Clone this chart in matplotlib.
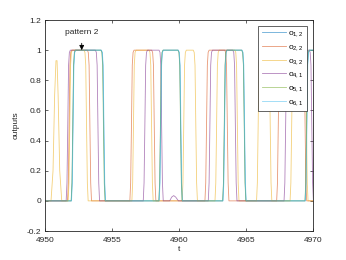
import matplotlib as mpl
import matplotlib.pyplot as plt

mpl.use('Agg')

# Pulse edges: (rise time, fall time)
t_start, t_end = 4950, 4970
labels = ['o$_{1,2}$', 'o$_{2,2}$', 'o$_{3,2}$', 'o$_{4,1}$', 'o$_{5,1}$', 'o$_{6,1}$']
colors = ['#0072BD', '#D95319', '#EDB120', '#7E2F8E', '#77AC30', '#4DBEEE']

pulses_o12 = [(4952.08, 4954.38), (4958.62, 4960.12), (4963.38, 4964.87), (4969.52, 4971)]
pulses_o22 = [(4951.8, 4953.35), (4956.45, 4958.15), (4962.05, 4963.6), (4967.4, 4969.4)]
pulses_o32 = [(4951.85, 4953.1), (4956.6, 4957.95), (4960.35, 4961.25), (4962.8, 4964.35),
              (4965.9, 4966.8), (4968.4, 4969.5)]
pulses_o41 = [(4951.7, 4953.95), (4957.45, 4958.7), (4962.3, 4964.2), (4967.95, 4969.9)]
pulses_o51 = [(4952.07, 4954.36), (4958.61, 4960.11), (4963.37, 4964.86), (4969.51, 4971)]
pulses_o61 = [(4952.1, 4954.4), (4958.64, 4960.14), (4963.4, 4964.89), (4969.54, 4971)]

# the partial bump of o3,2 near the start and the small bump of o4,1
bump_o32_t = [4950.45, 4950.6, 4950.72, 4950.82, 4950.9, 4950.98, 4951.1, 4951.25]
bump_o32_y = [0.0, 0.2, 0.7, 0.93, 0.93, 0.7, 0.2, 0.0]
bump_o41_t = [4959.3, 4959.45, 4959.6, 4959.75, 4959.95]
bump_o41_y = [0.0, 0.025, 0.035, 0.025, 0.0]

all_pulses = [pulses_o12, pulses_o22, pulses_o32, pulses_o41, pulses_o51, pulses_o61]
extra_bumps = {2: (bump_o32_t, bump_o32_y), 3: (bump_o41_t, bump_o41_y)}

ramp = 0.12  # half width of an edge


def pulse_vertices(pulses, bump=None):
    pts = [(t_start, 0.0)]
    if bump is not None:
        pts += list(zip(bump[0], bump[1]))
    for rise, fall in pulses:
        pts += [(rise - ramp, 0.0), (rise - ramp * 0.5, 0.12), (rise, 0.5),
                (rise + ramp * 0.5, 0.9), (rise + ramp, 0.985), (rise + ramp * 1.6, 1.0),
                (fall - ramp * 1.6, 1.0), (fall - ramp, 0.985), (fall - ramp * 0.5, 0.9),
                (fall, 0.5), (fall + ramp * 0.5, 0.12), (fall + ramp, 0.0)]
    pts.append((t_end + 1, pts[-1][1] if pts[-1][0] > t_end else 0.0))
    pts.sort(key=lambda p: p[0])
    return [p[0] for p in pts], [p[1] for p in pts]


plt.rcParams['font.family'] = ['Liberation Sans', 'DejaVu Sans']
plt.rcParams['font.size'] = 6
plt.rcParams['mathtext.fontset'] = 'custom'
plt.rcParams['mathtext.rm'] = 'Liberation Sans'
plt.rcParams['mathtext.it'] = 'Liberation Sans'

fig = plt.figure(figsize=(3.46, 2.6), dpi=100)
ax = fig.add_axes([0.13, 0.1115, 0.775, 0.8115])

for i, pulses in enumerate(all_pulses):
    t, y = pulse_vertices(pulses, extra_bumps.get(i))
    ax.plot(t, y, color=colors[i], lw=0.6, alpha=0.6, label=labels[i])

ax.set_xlim(t_start, t_end)
ax.set_ylim(-0.2, 1.2)
ax.set_xticks([4950, 4955, 4960, 4965, 4970])
ax.set_yticks([-0.2, 0, 0.2, 0.4, 0.6, 0.8, 1.0, 1.2])
ax.set_yticklabels(['-0.2', '0', '0.2', '0.4', '0.6', '0.8', '1', '1.2'])
ax.tick_params(direction='in', length=2.5, width=0.5, top=True, right=True,
               colors='#262626', labelsize=6)
ax.tick_params(axis='x', pad=4)
ax.tick_params(axis='y', pad=2.5)
for s in ax.spines.values():
    s.set_linewidth(0.6)
    s.set_color('#262626')

ax.set_xlabel('t', color='#262626', labelpad=2)
ax.set_ylabel('outputs', color='#262626', labelpad=5)

ax.annotate('pattern 2', xy=(4952.74, 1.0), xytext=(4952.74, 1.115),
            ha='center', va='center', color='#262626',
            arrowprops=dict(arrowstyle='-|>', color='k', lw=0.6,
                            shrinkA=3, shrinkB=0, mutation_scale=7))

leg = ax.legend(loc='upper right', bbox_to_anchor=(0.978, 0.972), fancybox=False,
                edgecolor='#262626', handlelength=2.9, labelspacing=0.45,
                borderpad=0.4, handletextpad=0.3, borderaxespad=0, framealpha=1)
leg.get_frame().set_linewidth(0.5)

fig.savefig('out.png', dpi=100)
plt.close(fig)
